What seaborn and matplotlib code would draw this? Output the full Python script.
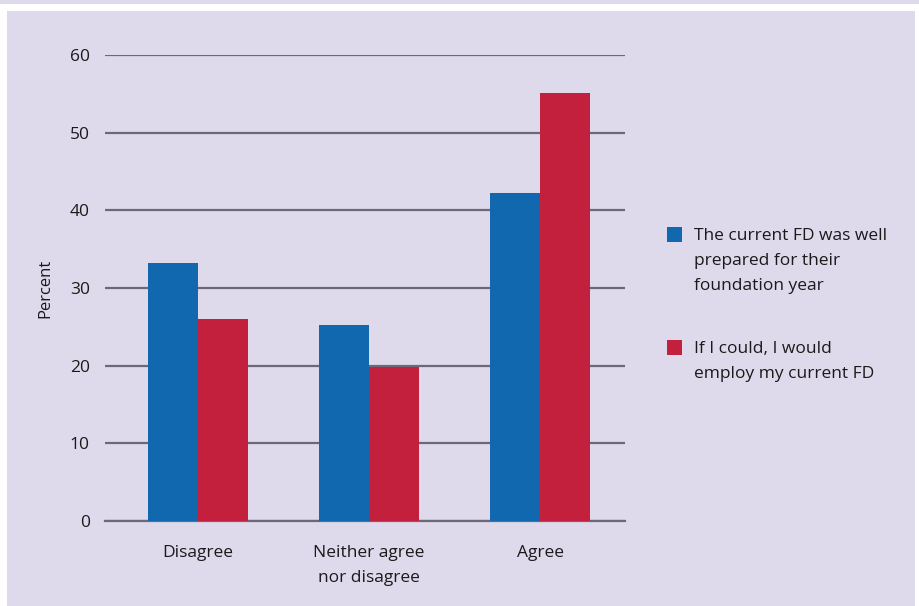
import numpy as np
import pandas as pd
import matplotlib
matplotlib.use("Agg")
import matplotlib.pyplot as plt
from matplotlib.patches import Rectangle
import seaborn as sns

categories = ["Disagree", "Neither agree\nnor disagree", "Agree"]
series_names = ["The current FD was well\nprepared for their\nfoundation year",
                "If I could, I would\nemploy my current FD"]
prepared = [33.2, 25.2, 42.2]
employ = [26.0, 19.8, 55.1]
yticks = [0, 10, 20, 30, 40, 50, 60]

bg = "#dedaeb"
blue = "#1268ae"
red = "#c3203d"
gridc = "#6b6878"
txt = "#1a1a1a"

df = pd.DataFrame({
    "category": categories * 2,
    "series": [series_names[0]] * 3 + [series_names[1]] * 3,
    "value": prepared + employ,
})

sns.set_theme(style="white")
plt.rcParams["font.family"] = ["Open Sans", "DejaVu Sans"]

fig = plt.figure(figsize=(9.2, 6.06), dpi=100)
fig.patch.set_facecolor("white")
# lavender panel + thin top strip
fig.patches.append(Rectangle((7 / 920, 0), 908 / 920, 1 - 11 / 606,
                             transform=fig.transFigure, facecolor=bg,
                             edgecolor="none", zorder=-10))
fig.patches.append(Rectangle((0, 1 - 4 / 606), 1, 4 / 606,
                             transform=fig.transFigure, facecolor=bg,
                             edgecolor="none", zorder=-10))

ax = fig.add_axes([105 / 920, 1 - 521 / 606, 520 / 920, (521 - 55) / 606])
ax.set_facecolor("none")

sns.barplot(data=df, x="category", y="value", hue="series",
            palette=[blue, red], width=0.585, saturation=1,
            linewidth=0, edgecolor="none",
            ax=ax, legend=False, zorder=3)

ax.set_ylim(0, 60)
ax.set_xlim(-0.545, 2.497)
ax.set_yticks(yticks)
ax.yaxis.grid(True, color=gridc, linewidth=1.6, zorder=0)
ax.set_axisbelow(True)
for s in ["top", "right", "left"]:
    ax.spines[s].set_visible(False)
ax.spines["bottom"].set_color(gridc)
ax.spines["bottom"].set_linewidth(1.6)
ax.tick_params(axis="both", length=0, labelsize=12.5, colors=txt)
ax.tick_params(axis="y", pad=11)
ax.tick_params(axis="x", pad=17)
for lab in ax.get_xticklabels():
    lab.set_linespacing(1.8)
ax.set_xlabel("")
ax.set_ylabel("Percent", fontsize=12, color=txt, labelpad=12)

# legend: square swatches next to the first line of each label
legend_rows = [(series_names[0], blue, 227), (series_names[1], red, 340)]
for name, col, ytop in legend_rows:
    fig.patches.append(Rectangle((667 / 920, 1 - (ytop + 15) / 606), 15 / 920, 15 / 606,
                                 transform=fig.transFigure, facecolor=col,
                                 edgecolor="none"))
    fig.text(694 / 920, 1 - (ytop + 1) / 606, name, ha="left", va="top",
             fontsize=12.5, color=txt, linespacing=1.75)

fig.savefig("out.png", dpi=100, facecolor=fig.get_facecolor())
